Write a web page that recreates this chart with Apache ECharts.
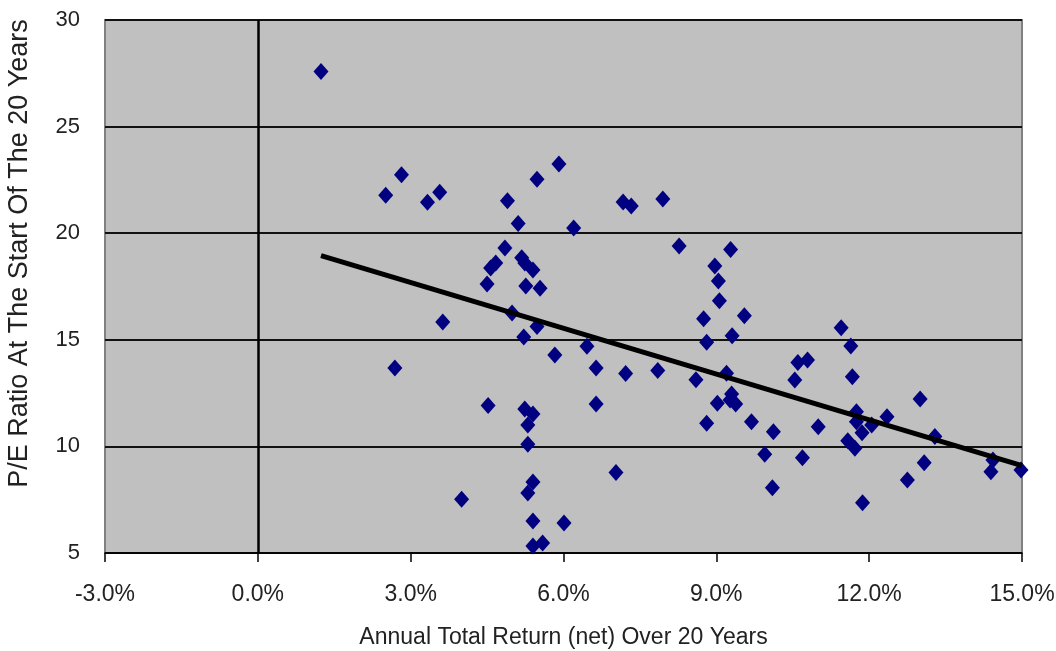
<!DOCTYPE html>
<html>
<head>
<meta charset="utf-8">
<script src="https://cdn.jsdelivr.net/npm/echarts@6/dist/echarts.min.js"></script>
<style>
  html, body { margin: 0; padding: 0; background: #fff; }
  #chart { width: 1056px; height: 651px; }
</style>
</head>
<body>
<div id="chart"></div>
<script>
/* -------------------------------------------------------------------------- */
/*                 P/E ratio vs 20-year annual total return                   */
/* -------------------------------------------------------------------------- */

// annual total return (%) and starting P/E
const returnPct = [
  1.24, 2.51, 2.82, 3.33, 3.57, 3.63, 2.69, 4.50, 4.52, 4.00,
  4.57, 4.67, 4.90, 4.85, 4.99, 5.11, 5.18, 5.24, 5.26, 5.40,
  5.54, 5.48, 5.91, 5.22, 5.48, 5.83, 6.20, 6.46, 6.64, 7.22,
  7.85, 8.60, 5.24, 5.40, 5.30, 5.30, 6.64, 7.03, 5.40, 5.30,
  5.40, 6.01, 5.40, 5.59, 7.17, 7.33, 7.95, 8.27, 9.28, 8.97,
  9.04, 9.06, 8.75, 9.55, 9.31, 8.81, 11.45, 11.64, 10.60, 10.79,
  10.54, 11.67, 9.20, 9.30, 9.38, 9.27, 9.02, 8.81, 9.69, 10.12,
  11.00, 11.75, 11.75, 11.86, 12.05, 12.35, 11.58, 11.72, 9.95, 10.69,
  10.10, 11.87, 13.00, 13.29, 13.08, 12.75, 14.43, 14.39, 14.98
];
const peRatio = [
  27.58, 21.78, 22.74, 21.45, 21.92, 15.83, 13.68, 17.62, 11.92, 7.52,
  18.37, 18.60, 21.52, 19.31, 16.26, 20.46, 18.85, 18.60, 17.52, 18.27,
  17.42, 22.53, 23.25, 15.13, 15.62, 14.29, 20.24, 14.70, 13.68, 13.42,
  13.56, 13.13, 11.75, 11.52, 11.00, 10.10, 11.99, 8.77, 8.33, 7.81,
  6.50, 6.41, 5.33, 5.47, 21.46, 21.27, 21.60, 19.40, 19.24, 18.46,
  17.76, 16.83, 15.99, 16.13, 15.19, 14.88, 15.57, 14.71, 13.93, 14.05,
  13.11, 13.27, 13.43, 12.46, 11.99, 12.18, 12.02, 11.08, 11.16, 10.69,
  10.92, 11.63, 11.16, 10.64, 11.00, 11.39, 10.27, 9.91, 9.63, 9.47,
  8.06, 7.36, 12.22, 10.46, 9.23, 8.42, 9.36, 8.81, 8.89
];

// linear trend line end points
const trendX = [1.24, 15.0];
const trendY = [18.95, 9.1];

const xTicks = { min: -3, max: 15, step: 3 };
const yTicks = { min: 5, max: 30, step: 5 };

const chartEl = document.getElementById('chart');
const chart = echarts.init(chartEl);

const fontFamily = "'Liberation Sans', Arial, sans-serif";

const points = returnPct.map((x, i) => [x, peRatio[i]]);
const trend = trendX.map((x, i) => [x, trendY[i]]);

const option = {
  animation: false,
  textStyle: { fontFamily },
  grid: {
    left: 105,
    right: 34,
    top: 20,
    bottom: 98,
    outerBoundsMode: 'none',
    containLabel: false,
    show: true,
    backgroundColor: '#C0C0C0',
    borderColor: '#808080',
    borderWidth: 2
  },
  xAxis: {
    type: 'value',
    min: xTicks.min,
    max: xTicks.max,
    interval: xTicks.step,
    name: 'Annual Total Return (net) Over 20 Years',
    nameLocation: 'middle',
    nameGap: 73,
    nameTextStyle: { color: '#222', fontSize: 23 },
    axisLine: { lineStyle: { color: '#000', width: 1.5 } },
    axisTick: { show: true, inside: false, length: 9, lineStyle: { color: '#000', width: 1.5 } },
    axisLabel: {
      color: '#222',
      fontSize: 23,
      margin: 30,
      formatter: v => v.toFixed(1) + '%'
    },
    splitLine: { show: false }
  },
  yAxis: {
    type: 'value',
    min: yTicks.min,
    max: yTicks.max,
    interval: yTicks.step,
    name: 'P/E Ratio At The Start Of The 20 Years',
    nameLocation: 'middle',
    nameRotate: 90,
    nameGap: 72,
    nameTextStyle: { color: '#222', fontSize: 27, padding: [0, 0, 0, 66] },
    axisLine: { show: false },
    axisTick: { show: false },
    axisLabel: { color: '#222', fontSize: 22, margin: 25 },
    splitLine: { lineStyle: { color: '#111', width: 2 } }
  },
  series: [
    {
      name: 'P/E',
      type: 'scatter',
      data: points,
      symbol: 'diamond',
      symbolSize: [15, 17],
      itemStyle: { color: '#000080', opacity: 1 },
      markLine: {
        silent: true,
        symbol: 'none',
        label: { show: false },
        lineStyle: { color: '#000', width: 2.5, type: 'solid' },
        data: [{ xAxis: 0 }]
      },
      z: 3
    },
    {
      name: 'Trend',
      type: 'line',
      data: trend,
      symbol: 'none',
      lineStyle: { color: '#000', width: 5 },
      z: 4
    }
  ]
};

chart.setOption(option);
</script>
</body>
</html>
